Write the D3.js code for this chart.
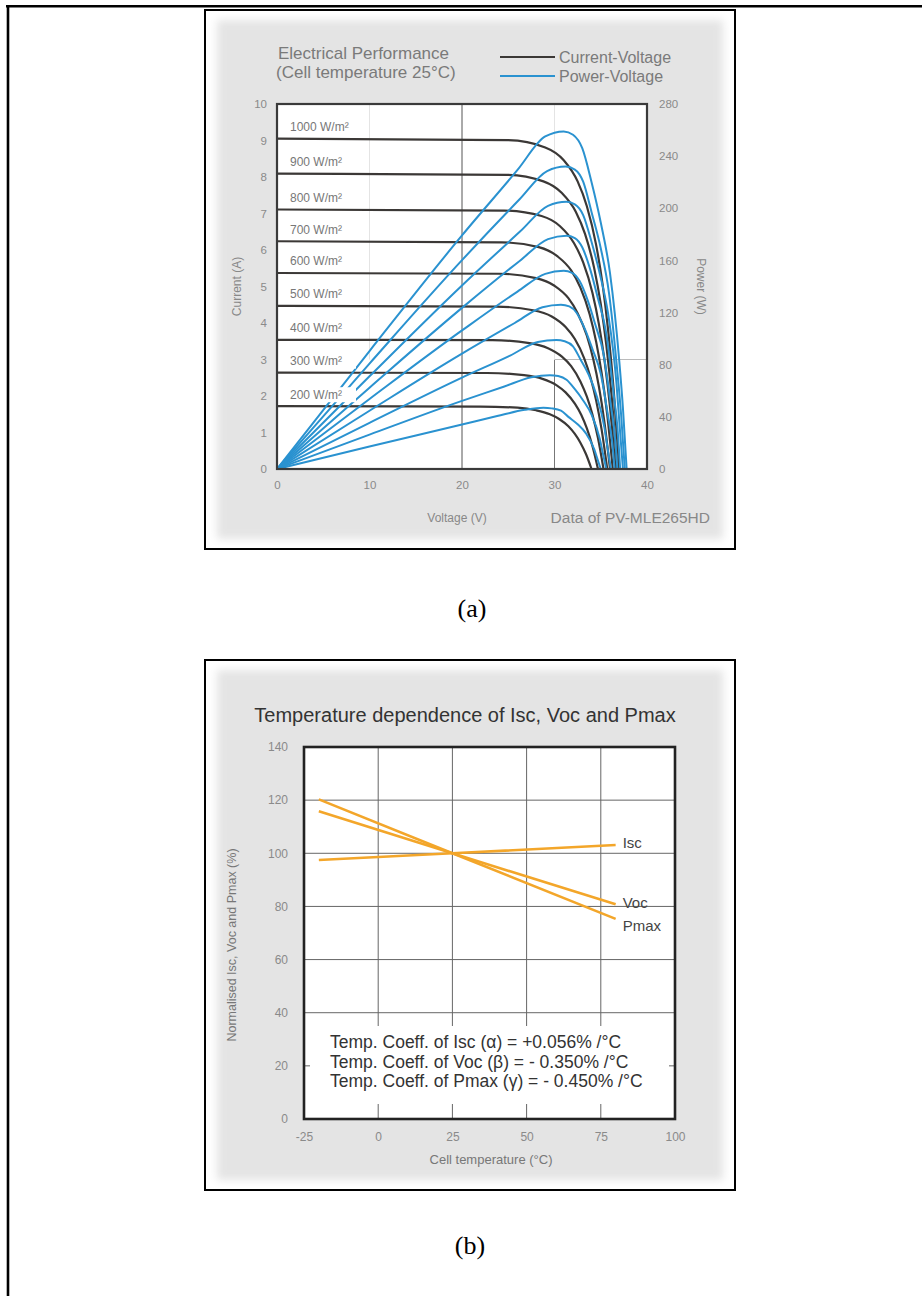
<!DOCTYPE html>
<html>
<head>
<meta charset="utf-8">
<script src="https://cdn.jsdelivr.net/npm/d3@7"></script>
<style>
  body { margin: 0; background: #fff; }
  svg { display: block; font-family: "Liberation Sans", Arial, sans-serif; }
</style>
</head>
<body>
<svg id="fig" width="922" height="1296"></svg>
<script>
//Data: panel (a), electrical performance at 25 °C
const irradiance = [1000, 900, 800, 700, 600, 500, 400, 300, 200];

// current-voltage curves (V, A)
const ivVoltage = [
  [0, 25.0, 29.0, 31.0, 32.5, 33.5, 34.5, 35.2, 35.8, 36.4, 37.0],
  [0, 24.8, 28.8, 30.8, 32.3, 33.3, 34.3, 35.0, 35.6, 36.2, 36.8],
  [0, 24.6, 28.6, 30.6, 32.1, 33.1, 34.1, 34.8, 35.4, 36.0, 36.6],
  [0, 24.3, 28.3, 30.3, 31.8, 32.8, 33.8, 34.5, 35.1, 35.7, 36.3],
  [0, 24.0, 28.0, 30.0, 31.5, 32.5, 33.5, 34.2, 34.8, 35.4, 36.0],
  [0, 23.7, 27.7, 29.7, 31.2, 32.2, 33.2, 33.9, 34.5, 35.1, 35.7],
  [0, 23.3, 27.3, 29.3, 30.8, 31.8, 32.8, 33.5, 34.1, 34.7, 35.3],
  [0, 22.7, 26.7, 28.7, 30.2, 31.2, 32.2, 32.9, 33.5, 34.1, 34.7],
  [0, 22.0, 26.0, 28.0, 29.5, 30.5, 31.5, 32.2, 32.8, 33.4, 34.0]
];
const ivCurrent = [
  [9.05, 9.01, 8.81, 8.46, 7.88, 7.20, 6.14, 5.06, 3.80, 2.16, 0],
  [8.09, 8.06, 7.88, 7.56, 7.05, 6.44, 5.49, 4.52, 3.40, 1.93, 0],
  [7.11, 7.08, 6.93, 6.65, 6.19, 5.66, 4.83, 3.97, 2.99, 1.70, 0],
  [6.24, 6.21, 6.08, 5.83, 5.44, 4.97, 4.24, 3.49, 2.62, 1.49, 0],
  [5.37, 5.35, 5.23, 5.02, 4.68, 4.27, 3.65, 3.00, 2.26, 1.28, 0],
  [4.47, 4.45, 4.35, 4.18, 3.89, 3.56, 3.04, 2.50, 1.88, 1.07, 0],
  [3.54, 3.53, 3.45, 3.31, 3.08, 2.82, 2.40, 1.98, 1.49, 0.85, 0],
  [2.64, 2.63, 2.57, 2.47, 2.30, 2.10, 1.79, 1.48, 1.11, 0.63, 0],
  [1.72, 1.71, 1.68, 1.61, 1.50, 1.37, 1.17, 0.96, 0.72, 0.41, 0]
];

// power-voltage curves (V, W)
const pvVoltage = [
  [0, 10, 20, 26.0, 29.0, 31.0, 32.0, 33.0, 34.0, 35.0, 36.0, 37.0, 37.4, 37.8],
  [0, 10, 20, 26.2, 29.2, 31.2, 32.2, 33.1, 34.0, 35.0, 35.9, 36.8, 37.2, 37.6],
  [0, 10, 20, 26.3, 29.3, 31.3, 32.2, 33.1, 34.0, 34.9, 35.8, 36.7, 37.0, 37.4],
  [0, 10, 20, 26.3, 29.3, 31.3, 32.2, 33.0, 33.9, 34.7, 35.6, 36.4, 36.8, 37.1],
  [0, 10, 20, 26.0, 29.0, 31.0, 31.9, 32.7, 33.6, 34.4, 35.3, 36.1, 36.5, 36.8],
  [0, 10, 20, 25.7, 28.7, 30.7, 31.6, 32.4, 33.3, 34.1, 35.0, 35.8, 36.2, 36.5],
  [0, 10, 20, 25.2, 28.2, 30.2, 31.1, 32.0, 32.8, 33.7, 34.5, 35.4, 35.7, 36.1],
  [0, 10, 20, 24.5, 27.5, 29.5, 30.4, 31.3, 32.2, 33.1, 34.0, 34.9, 35.2, 35.6],
  [0, 10, 20, 23.8, 26.8, 28.8, 29.7, 30.7, 31.5, 32.5, 33.4, 34.3, 34.6, 35.0]
];
const pvPower = [
  [0, 90.5, 179.2, 229.4, 255.1, 259, 256.4, 246.1, 220.2, 189.1, 150.2, 82.9, 46.6, 0],
  [0, 80.9, 160.2, 206.7, 228.5, 232, 229.7, 220.4, 197.2, 169.4, 134.6, 74.2, 41.8, 0],
  [0, 71.1, 140.8, 182.3, 201.9, 205, 203.0, 194.8, 174.3, 149.7, 118.9, 65.6, 36.9, 0],
  [0, 62.4, 123.6, 160.0, 176.3, 179, 177.2, 170.1, 152.2, 130.7, 103.8, 57.3, 32.2, 0],
  [0, 53.7, 106.3, 136.1, 149.7, 152, 150.5, 144.4, 129.2, 111.0, 88.2, 48.6, 27.4, 0],
  [0, 44.7, 88.5, 112.0, 124.1, 126, 124.7, 119.7, 107.1, 92.0, 73.1, 40.3, 22.7, 0],
  [0, 35.4, 70.1, 87.0, 97.5, 99, 98.0, 94.1, 84.2, 72.3, 57.4, 31.7, 17.8, 0],
  [0, 26.4, 52.3, 63.1, 70.4, 72, 71.3, 68.4, 61.2, 52.6, 41.8, 23.0, 13.0, 0],
  [0, 17.2, 34.1, 40.6, 45.4, 47, 46.5, 44.7, 40.0, 34.3, 27.3, 15.0, 8.5, 0]
];

const voltTicks = [0, 10, 20, 30, 40];
const currentTicks = [0, 1, 2, 3, 4, 5, 6, 7, 8, 9, 10];
const powerTicks = [0, 40, 80, 120, 160, 200, 240, 280];

//Data: panel (b), temperature dependence
const tempPoints = [-20, 25, 80];
const iscPct = [97.5, 100, 103.1];
const vocPct = [115.8, 100, 80.8];
const pmaxPct = [120.3, 100, 75.3];
const seriesNames = ['Isc', 'Voc', 'Pmax'];
const tempTicks = [-25, 0, 25, 50, 75, 100];
const pctTicks = [0, 20, 40, 60, 80, 100, 120, 140];
const coeffText = [
  'Temp. Coeff. of Isc (α) = +0.056% /°C',
  'Temp. Coeff. of Voc (β) = - 0.350% /°C',
  'Temp. Coeff. of Pmax (γ) = - 0.450% /°C'
];

const BLACK_CURVE = '#3b3836';
const BLUE_CURVE = '#2a92d0';
const ORANGE = '#f3a62a';

const svg = d3.select('#fig');
const defs = svg.append('defs');
defs.append('filter').attr('id', 'soft')
  .append('feGaussianBlur').attr('stdDeviation', 4);

// outer page frame (top and left rules only)
svg.append('line').attr('x1', 6).attr('x2', 922).attr('y1', 6.2).attr('y2', 6.2)
  .attr('stroke', '#000').attr('stroke-width', 2.6);
svg.append('line').attr('x1', 8).attr('x2', 8).attr('y1', 5).attr('y2', 1296)
  .attr('stroke', '#000').attr('stroke-width', 2.6);

const panelFrame = (x, y, w, h) => {
  svg.append('rect').attr('x', x).attr('y', y).attr('width', w).attr('height', h)
    .attr('fill', '#fff').attr('stroke', '#000').attr('stroke-width', 2);
  svg.append('rect').attr('x', x + 12).attr('y', y + 10).attr('width', w - 24).attr('height', h - 20)
    .attr('fill', '#e4e4e4').attr('filter', 'url(#soft)');
};

const plainFmt = d => String(d);

//Panel (a)
panelFrame(205, 10, 530, 539);

const xA = d3.scaleLinear().domain([0, 40]).range([277, 647]);
const yI = d3.scaleLinear().domain([0, 10]).range([469, 104]);
const yP = d3.scaleLinear().domain([0, 280]).range([469, 104]);

const ga = svg.append('g');
ga.append('rect').attr('x', xA(0)).attr('y', yI(10))
  .attr('width', xA(40) - xA(0)).attr('height', yI(0) - yI(10)).attr('fill', '#fff');

// grid
ga.append('line').attr('x1', xA(20)).attr('x2', xA(20)).attr('y1', yI(10)).attr('y2', yI(0))
  .attr('stroke', '#555').attr('stroke-width', 1);
ga.append('line').attr('x1', xA(30)).attr('x2', xA(30)).attr('y1', yI(3)).attr('y2', yI(0))
  .attr('stroke', '#777').attr('stroke-width', 1);
ga.append('line').attr('x1', xA(30)).attr('x2', xA(40)).attr('y1', yI(3)).attr('y2', yI(3))
  .attr('stroke', '#bbb').attr('stroke-width', 1);
[10, 30].forEach(v => {
  ga.append('line').attr('x1', xA(v)).attr('x2', xA(v)).attr('y1', yI(10)).attr('y2', yI(3))
    .attr('stroke', '#e4e4e4').attr('stroke-width', 1);
});

const ivLine = d3.line().curve(d3.curveMonotoneX);

irradiance.forEach((g, i) => {
  const pts = ivVoltage[i].map((v, j) => [xA(v), yI(ivCurrent[i][j])]);
  ga.append('path').attr('d', ivLine(pts)).attr('fill', 'none')
    .attr('stroke', BLACK_CURVE).attr('stroke-width', 2.2);
});
irradiance.forEach((g, i) => {
  const pts = pvVoltage[i].map((v, j) => [xA(v), yP(pvPower[i][j])]);
  ga.append('path').attr('d', ivLine(pts)).attr('fill', 'none')
    .attr('stroke', BLUE_CURVE).attr('stroke-width', 2);
});

// irradiance labels with white boxes
irradiance.forEach((g, i) => {
  const ly = yI(ivCurrent[i][0]);
  ga.append('rect').attr('x', 286).attr('y', ly - 19).attr('width', 70).attr('height', 15)
    .attr('fill', '#fff');
  ga.append('text').attr('x', 290).attr('y', ly - 7.5)
    .attr('font-size', 12).attr('fill', '#777')
    .text(`${g} W/m²`);
});

ga.append('rect').attr('x', xA(0)).attr('y', yI(10))
  .attr('width', xA(40) - xA(0)).attr('height', yI(0) - yI(10))
  .attr('fill', 'none').attr('stroke', '#3a3a3a').attr('stroke-width', 2.2);

// axes
const styleAxis = (size) => (sel) => {
  sel.select('.domain').remove();
  sel.selectAll('.tick line').remove();
  sel.selectAll('.tick text').attr('fill', '#8a8a8a').attr('font-size', size)
    .attr('font-family', '"Liberation Sans", Arial, sans-serif');
};
ga.append('g').attr('transform', `translate(${xA(0) - 6},0)`)
  .call(d3.axisLeft(yI).tickValues(currentTicks).tickSize(0).tickPadding(4))
  .call(styleAxis(11.5));
ga.append('g').attr('transform', `translate(${xA(40) + 8},0)`)
  .call(d3.axisRight(yP).tickValues(powerTicks).tickSize(0).tickPadding(4))
  .call(styleAxis(11.5));
ga.append('g').attr('transform', `translate(0,${yI(0) + 8})`)
  .call(d3.axisBottom(xA).tickValues(voltTicks).tickSize(0).tickPadding(4))
  .call(styleAxis(11.5));

ga.append('text').attr('transform', `translate(241,${(yI(0) + yI(10)) / 2}) rotate(-90)`)
  .attr('text-anchor', 'middle').attr('font-size', 12).attr('fill', '#888').text('Current (A)');
ga.append('text').attr('transform', `translate(697,${(yI(0) + yI(10)) / 2}) rotate(90)`)
  .attr('text-anchor', 'middle').attr('font-size', 12).attr('fill', '#888').text('Power (W)');
ga.append('text').attr('x', 457).attr('y', 522).attr('text-anchor', 'middle')
  .attr('font-size', 12).attr('fill', '#888').text('Voltage (V)');
ga.append('text').attr('x', 710).attr('y', 523).attr('text-anchor', 'end')
  .attr('font-size', 15.5).attr('fill', '#888').text('Data of PV-MLE265HD');

// title and legend
ga.append('text').attr('x', 278).attr('y', 59).attr('font-size', 17).attr('fill', '#7a7a7a')
  .text('Electrical Performance');
ga.append('text').attr('x', 276).attr('y', 78).attr('font-size', 17).attr('fill', '#7a7a7a')
  .text('(Cell temperature 25°C)');
[['Current-Voltage', BLACK_CURVE, 57], ['Power-Voltage', BLUE_CURVE, 76]].forEach(([name, col, ly]) => {
  ga.append('line').attr('x1', 500).attr('x2', 555).attr('y1', ly).attr('y2', ly)
    .attr('stroke', col).attr('stroke-width', 2);
  ga.append('text').attr('x', 559).attr('y', ly + 5.5).attr('font-size', 16).attr('fill', '#7a7a7a')
    .text(name);
});

svg.append('text').attr('x', 472).attr('y', 617).attr('text-anchor', 'middle')
  .attr('font-family', '"Liberation Serif", "Times New Roman", serif').attr('font-size', 26)
  .text('(a)');

//Panel (b)
panelFrame(205, 660, 530, 530);

const xB = d3.scaleLinear().domain([-25, 100]).range([304, 675]);
const yB = d3.scaleLinear().domain([0, 140]).range([1119, 747]);

const gb = svg.append('g');
gb.append('rect').attr('x', xB(-25)).attr('y', yB(140))
  .attr('width', xB(100) - xB(-25)).attr('height', yB(0) - yB(140)).attr('fill', '#fff');

gb.selectAll('.vgrid').data(tempTicks.slice(1, -1)).join('line')
  .attr('x1', d => xB(d)).attr('x2', d => xB(d)).attr('y1', yB(140)).attr('y2', yB(0))
  .attr('stroke', '#666').attr('stroke-width', 1);
gb.selectAll('.hgrid').data(pctTicks.slice(1, -1)).join('line')
  .attr('x1', xB(-25)).attr('x2', xB(100)).attr('y1', d => yB(d)).attr('y2', d => yB(d))
  .attr('stroke', '#666').attr('stroke-width', 1);

// white panel behind the coefficient notes
gb.append('rect').attr('x', xB(-25) + 6).attr('y', 1026)
  .attr('width', xB(100) - xB(-25) - 12).attr('height', 78).attr('fill', '#fff');

const lineB = d3.line().x(d => xB(d[0])).y(d => yB(d[1]));
[iscPct, vocPct, pmaxPct].forEach(vals => {
  gb.append('path').attr('d', lineB(tempPoints.map((t, i) => [t, vals[i]])))
    .attr('fill', 'none').attr('stroke', ORANGE).attr('stroke-width', 2.6);
});

const endLabelY = [iscPct[2] + 0.8, vocPct[2] + 0.8, pmaxPct[2] - 2.6];
seriesNames.forEach((name, i) => {
  gb.append('text').attr('x', xB(80) + 7).attr('y', yB(endLabelY[i]) + 5.5)
    .attr('font-size', 15).attr('fill', '#444').text(name);
});

coeffText.forEach((t, i) => {
  gb.append('text').attr('x', 330).attr('y', 1048 + i * 19.5)
    .attr('font-size', 17.5).attr('fill', '#333').text(t);
});

gb.append('rect').attr('x', xB(-25)).attr('y', yB(140))
  .attr('width', xB(100) - xB(-25)).attr('height', yB(0) - yB(140))
  .attr('fill', 'none').attr('stroke', '#222').attr('stroke-width', 2.6);

gb.append('g').attr('transform', `translate(${xB(-25) - 14},0)`)
  .call(d3.axisLeft(yB).tickValues(pctTicks).tickFormat(plainFmt).tickSize(0).tickPadding(2))
  .call(styleAxis(12));
gb.append('g').attr('transform', `translate(0,${yB(0) + 10})`)
  .call(d3.axisBottom(xB).tickValues(tempTicks).tickFormat(plainFmt).tickSize(0).tickPadding(3))
  .call(styleAxis(12));

gb.append('text').attr('x', 465).attr('y', 722).attr('text-anchor', 'middle')
  .attr('font-size', 20).attr('fill', '#333').text('Temperature dependence of Isc, Voc and Pmax');
gb.append('text').attr('transform', `translate(236,945) rotate(-90)`)
  .attr('text-anchor', 'middle').attr('font-size', 12.5).attr('fill', '#777')
  .text('Normalised Isc, Voc and Pmax (%)');
gb.append('text').attr('x', 491).attr('y', 1164).attr('text-anchor', 'middle')
  .attr('font-size', 13).attr('fill', '#777').text('Cell temperature (°C)');

svg.append('text').attr('x', 470).attr('y', 1254).attr('text-anchor', 'middle')
  .attr('font-family', '"Liberation Serif", "Times New Roman", serif').attr('font-size', 26)
  .text('(b)');
</script>
</body>
</html>
